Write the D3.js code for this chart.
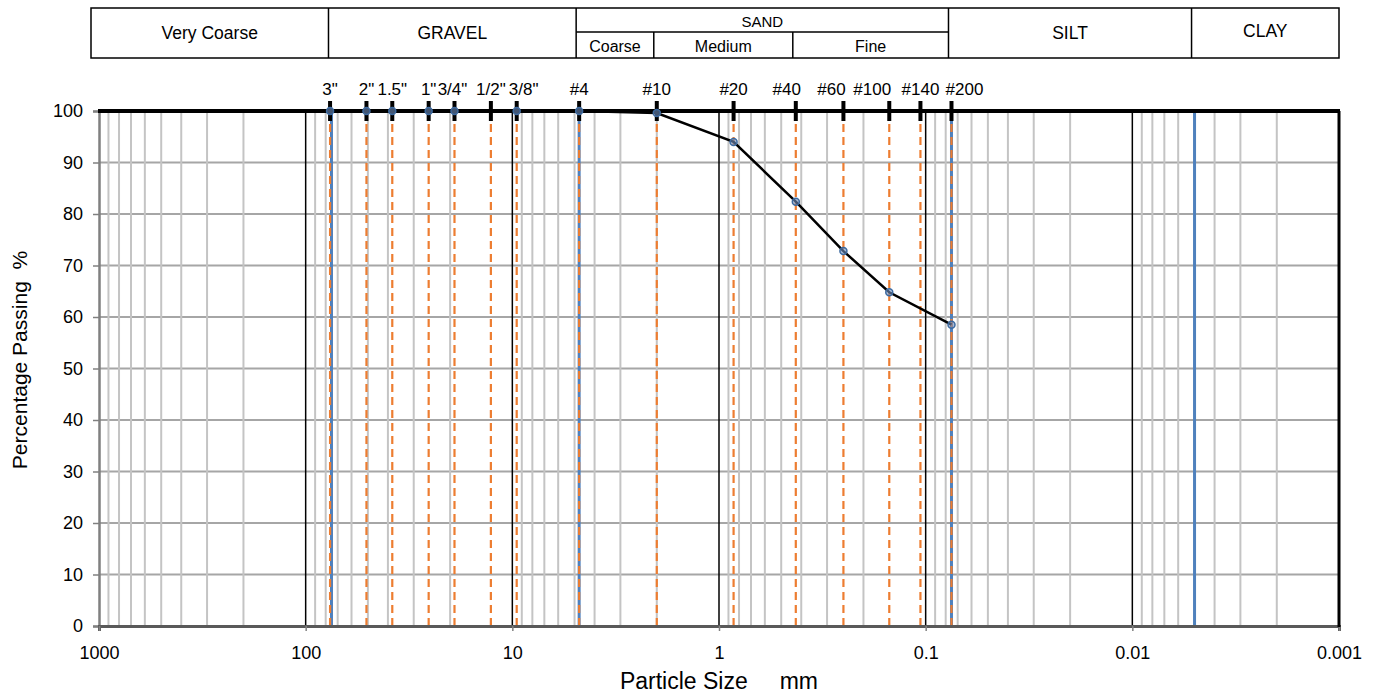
<!DOCTYPE html>
<html>
<head>
<meta charset="utf-8">
<title>Grain size distribution</title>
<script src="https://d3js.org/d3.v7.min.js"></script>
<style>
  body { margin: 0; background: #fff; }
  svg { font-family: "Liberation Sans", Arial, sans-serif; }
  .tbl text { font-size: 17.5px; fill: #000; text-anchor: middle; }
  .axis text { font-size: 18px; fill: #000; }
  .sieve-label { font-size: 17px; text-anchor: middle; fill: #000; }
  .title { white-space: pre; }
</style>
</head>
<body>
<svg id="chart" width="1374" height="696"></svg>
<script>
// sieve openings (mm) and their names
var sieveLabels = ['3"', '2"', '1.5"', '1"', '3/4"', '1/2"', '3/8"', '#4', '#10', '#20', '#40', '#60', '#100', '#140', '#200'];
var sieveSizes = [76.2, 50.8, 38.1, 25.4, 19.05, 12.7, 9.525, 4.75, 2.0, 0.85, 0.425, 0.25, 0.15, 0.106, 0.075];
// horizontal nudges of the sieve labels (px), to keep them apart
var labelNudge = [0, 0, 0, 0, -2, 0, 7, 0, 0, 0, -9, -12, -17, 0, 13];

// test results
var testSizes = [76.2, 50.8, 38.1, 25.4, 19.05, 9.525, 4.75, 2.0, 0.85, 0.425, 0.25, 0.15, 0.075];
var percentPassing = [100, 100, 100, 100, 100, 100, 100, 99.6, 94.0, 82.4, 72.8, 64.8, 58.5];

// classification boundaries (mm)
var bandNames = ['Very Coarse', 'GRAVEL', 'SAND', 'SILT', 'CLAY'];
var bandEdges = [75, 4.75, 0.075, 0.005];
var sandNames = ['Coarse', 'Medium', 'Fine'];
var sandEdges = [4.75, 2, 0.425, 0.075];

var decadeTicks = [1000, 100, 10, 1, 0.1, 0.01, 0.001];
var yTicks = d3.range(0, 101, 10);

var svg = d3.select('#chart');
var pLeft = 99, pRight = 1339, pTop = 111, pBottom = 626;

var x = d3.scaleLog().domain([1000, 0.001]).range([pLeft, pRight]);
var y = d3.scaleLinear().domain([0, 100]).range([pBottom, pTop]);

// minor values 2..9 x 10^k
var minor = [];
for (var k = -3; k <= 2; k++) {
  for (var m = 2; m <= 9; m++) minor.push(m * Math.pow(10, k));
}

var g = svg.append('g');

// horizontal grid
g.selectAll('.hgrid').data(yTicks.filter(function(d) { return d > 0 && d < 100; }))
  .enter().append('line')
  .attr('x1', pLeft).attr('x2', pRight)
  .attr('y1', function(d) { return y(d); }).attr('y2', function(d) { return y(d); })
  .attr('stroke', '#a6a6a6').attr('stroke-width', 2);

// vertical minor grid
g.selectAll('.vgrid').data(minor)
  .enter().append('line')
  .attr('x1', function(d) { return x(d); }).attr('x2', function(d) { return x(d); })
  .attr('y1', pTop).attr('y2', pBottom)
  .attr('stroke', '#c4c4c4').attr('stroke-width', 2);

// decade lines
g.selectAll('.decade').data([100, 10, 1, 0.1, 0.01])
  .enter().append('line')
  .attr('x1', function(d) { return x(d); }).attr('x2', function(d) { return x(d); })
  .attr('y1', pTop).attr('y2', pBottom)
  .attr('stroke', '#000').attr('stroke-width', 1.5);

// classification boundaries
g.selectAll('.bound').data(bandEdges)
  .enter().append('line')
  .attr('x1', function(d) { return x(d); }).attr('x2', function(d) { return x(d); })
  .attr('y1', pTop).attr('y2', pBottom)
  .attr('stroke', '#4f81bd').attr('stroke-width', 3);

// sieve dashed lines
g.selectAll('.sieve').data(sieveSizes)
  .enter().append('line')
  .attr('x1', function(d) { return x(d); }).attr('x2', function(d) { return x(d); })
  .attr('y1', pTop).attr('y2', pBottom)
  .attr('stroke', '#ed7d31').attr('stroke-width', 2.2)
  .attr('stroke-dasharray', '8,5');

// axes
var yAxis = g.append('g').attr('class', 'axis')
  .attr('transform', 'translate(' + pLeft + ',0)')
  .call(d3.axisLeft(y).tickValues(yTicks).tickSize(6).tickPadding(10));
yAxis.select('.domain').attr('stroke', '#808080').attr('stroke-width', 2.5);
yAxis.selectAll('.tick line').attr('stroke', '#808080').attr('stroke-width', 1.5);

var xAxis = g.append('g').attr('class', 'axis')
  .attr('transform', 'translate(0,' + pBottom + ')')
  .call(d3.axisBottom(x).tickValues(decadeTicks).tickFormat(function(d) { return String(d); })
    .tickSize(5).tickPadding(15));
xAxis.select('.domain').attr('stroke', '#595959').attr('stroke-width', 3);
xAxis.selectAll('.tick line').attr('stroke', '#808080').attr('stroke-width', 1.5);

// frame top and right
g.append('line').attr('x1', pLeft - 1).attr('x2', pRight + 1).attr('y1', pTop).attr('y2', pTop)
  .attr('stroke', '#000').attr('stroke-width', 4);
g.append('line').attr('x1', pRight).attr('x2', pRight).attr('y1', pTop).attr('y2', pBottom + 1)
  .attr('stroke', '#000').attr('stroke-width', 3);

// data line
var pts = testSizes.map(function(d, i) { return [d, percentPassing[i]]; });
g.append('path').datum(pts)
  .attr('fill', 'none').attr('stroke', '#000').attr('stroke-width', 2.5)
  .attr('d', d3.line().x(function(d) { return x(d[0]); }).y(function(d) { return y(d[1]); }));

// sieve tick bars on top
g.selectAll('.bar').data(sieveSizes)
  .enter().append('line')
  .attr('x1', function(d) { return x(d); }).attr('x2', function(d) { return x(d); })
  .attr('y1', pTop - 10).attr('y2', pTop + 10)
  .attr('stroke', '#000').attr('stroke-width', 4);

g.selectAll('.mark').data(pts)
  .enter().append('circle')
  .attr('cx', function(d) { return x(d[0]); }).attr('cy', function(d) { return y(d[1]); })
  .attr('r', 3.5)
  .attr('fill', '#6f8fbf').attr('fill-opacity', 0.6)
  .attr('stroke', '#3d6aa0').attr('stroke-width', 1.5);

g.selectAll('.sieve-label').data(sieveSizes)
  .enter().append('text').attr('class', 'sieve-label')
  .attr('x', function(d, i) { return x(d) + labelNudge[i]; }).attr('y', 95)
  .text(function(d, i) { return sieveLabels[i]; });

// axis titles
svg.append('text').attr('class', 'title')
  .attr('transform', 'translate(27,360) rotate(-90)')
  .attr('text-anchor', 'middle').attr('font-size', 21).text('Percentage Passing  %');
svg.append('text').attr('class', 'title').attr('x', 719).attr('y', 689)
  .attr('text-anchor', 'middle').attr('font-size', 23)
  .text('Particle Size     mm');

// classification table
var tbl = svg.append('g').attr('class', 'tbl');
var tTop = 8, tMid = 32, tBot = 58, tLeft = 91, tRight = pRight;
var shift = -3;
var edgesPx = [tLeft].concat(bandEdges.map(function(d) { return x(d) + shift; })).concat([tRight]);
tbl.append('rect').attr('x', tLeft).attr('y', tTop).attr('width', tRight - tLeft).attr('height', tBot - tTop)
  .attr('fill', 'none').attr('stroke', '#000').attr('stroke-width', 1.5);
tbl.selectAll('.cell-line').data(edgesPx.slice(1, -1))
  .enter().append('line')
  .attr('x1', function(d) { return d; }).attr('x2', function(d) { return d; })
  .attr('y1', tTop).attr('y2', tBot).attr('stroke', '#000').attr('stroke-width', 1.5);
bandNames.forEach(function(name, i) {
  var cx = (edgesPx[i] + edgesPx[i + 1]) / 2;
  var ty = name === 'SAND' ? 27 : (name === 'CLAY' ? 37 : 39);
  var t = tbl.append('text').attr('x', cx).attr('y', ty).text(name);
  if (name === 'SAND') t.style('font-size', '15px');
});
var sandPx = sandEdges.map(function(d) { return x(d) + shift; });
tbl.append('line').attr('x1', sandPx[0]).attr('x2', sandPx[3]).attr('y1', tMid).attr('y2', tMid)
  .attr('stroke', '#000').attr('stroke-width', 1.5);
tbl.selectAll('.sand-line').data(sandPx.slice(1, -1))
  .enter().append('line')
  .attr('x1', function(d) { return d; }).attr('x2', function(d) { return d; })
  .attr('y1', tMid).attr('y2', tBot).attr('stroke', '#000').attr('stroke-width', 1.5);
sandNames.forEach(function(name, i) {
  tbl.append('text').attr('x', (sandPx[i] + sandPx[i + 1]) / 2).attr('y', 52).style('font-size', '16px').text(name);
});
</script>
</body>
</html>
